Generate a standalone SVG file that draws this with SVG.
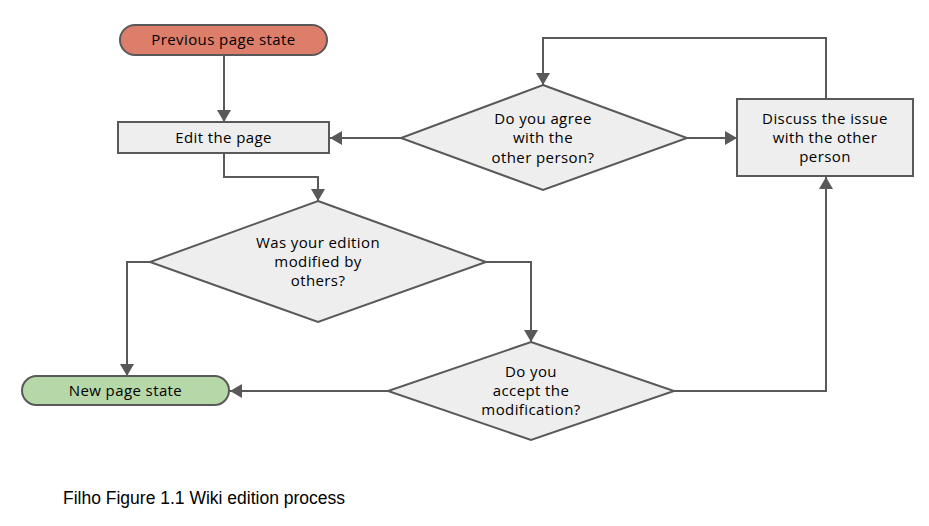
<svg xmlns="http://www.w3.org/2000/svg" width="929" height="526" viewBox="0 0 929 526">
<style>
.sh{stroke:#595959;stroke-width:2}
.g{fill:#eeeeee}
.t{font-family:"Open Sans","Liberation Sans",sans-serif;font-size:15px;letter-spacing:0.4px;fill:#000;text-anchor:middle}
.c{fill:none;stroke:#595959;stroke-width:2}
.cap{font-family:"Liberation Sans",Arial,sans-serif;font-size:17.5px;fill:#000}
</style>
<defs>
<marker id="ah" viewBox="0 0 12 14" refX="12" refY="7" markerWidth="12" markerHeight="14" markerUnits="userSpaceOnUse" orient="auto">
<path d="M0,0 L12,7 L0,14 Z" fill="#595959"/>
</marker>
</defs>
<rect width="929" height="526" fill="#ffffff"/>
<g id="connectors">
<path class="c" d="M224,55 V122" marker-end="url(#ah)"/>
<path class="c" d="M224,153 V177 H318 V201" marker-end="url(#ah)"/>
<path class="c" d="M150,262 H127 V376" marker-end="url(#ah)"/>
<path class="c" d="M486,262 H531 V342" marker-end="url(#ah)"/>
<path class="c" d="M388,391 H230" marker-end="url(#ah)"/>
<path class="c" d="M674,391 H826 V177" marker-end="url(#ah)"/>
<path class="c" d="M826,99 V38 H543 V85" marker-end="url(#ah)"/>
<path class="c" d="M687,138 H737" marker-end="url(#ah)"/>
<path class="c" d="M401,138 H330" marker-end="url(#ah)"/>
</g>
<g id="previous">
<rect class="sh" x="120" y="25" width="207" height="30" rx="15" fill="#dd7e6b"/>
<text class="t" x="223.500" y="45">Previous page state</text>
</g>
<g id="edit">
<rect class="sh g" x="118" y="122" width="211" height="31"/>
<text class="t" x="223.500" y="143">Edit the page</text>
</g>
<g id="modified">
<polygon class="sh g" points="318,201 486,262 318,322 150,262"/>
<text class="t" x="318" y="248">Was your edition</text>
<text class="t" x="318" y="267">modified by</text>
<text class="t" x="318" y="286">others?</text>
</g>
<g id="agree">
<polygon class="sh g" points="543,85 687,138 543,190 401,138"/>
<text class="t" x="543" y="124">Do you agree</text>
<text class="t" x="543" y="143">with the</text>
<text class="t" x="543" y="163">other person?</text>
</g>
<g id="discuss">
<rect class="sh g" x="737" y="99" width="176" height="77"/>
<text class="t" x="825" y="124">Discuss the issue</text>
<text class="t" x="825" y="143">with the other</text>
<text class="t" x="825" y="162">person</text>
</g>
<g id="accept">
<polygon class="sh g" points="531,342 674,391 531,440 388,391"/>
<text class="t" x="531" y="377">Do you</text>
<text class="t" x="531" y="396">accept the</text>
<text class="t" x="531" y="415">modification?</text>
</g>
<g id="newstate">
<rect class="sh" x="22" y="376" width="207" height="29" rx="14.500" fill="#b6d7a8"/>
<text class="t" x="125.500" y="396">New page state</text>
</g>
<text class="cap" x="63" y="504">Filho Figure 1.1 Wiki edition process</text>
</svg>
